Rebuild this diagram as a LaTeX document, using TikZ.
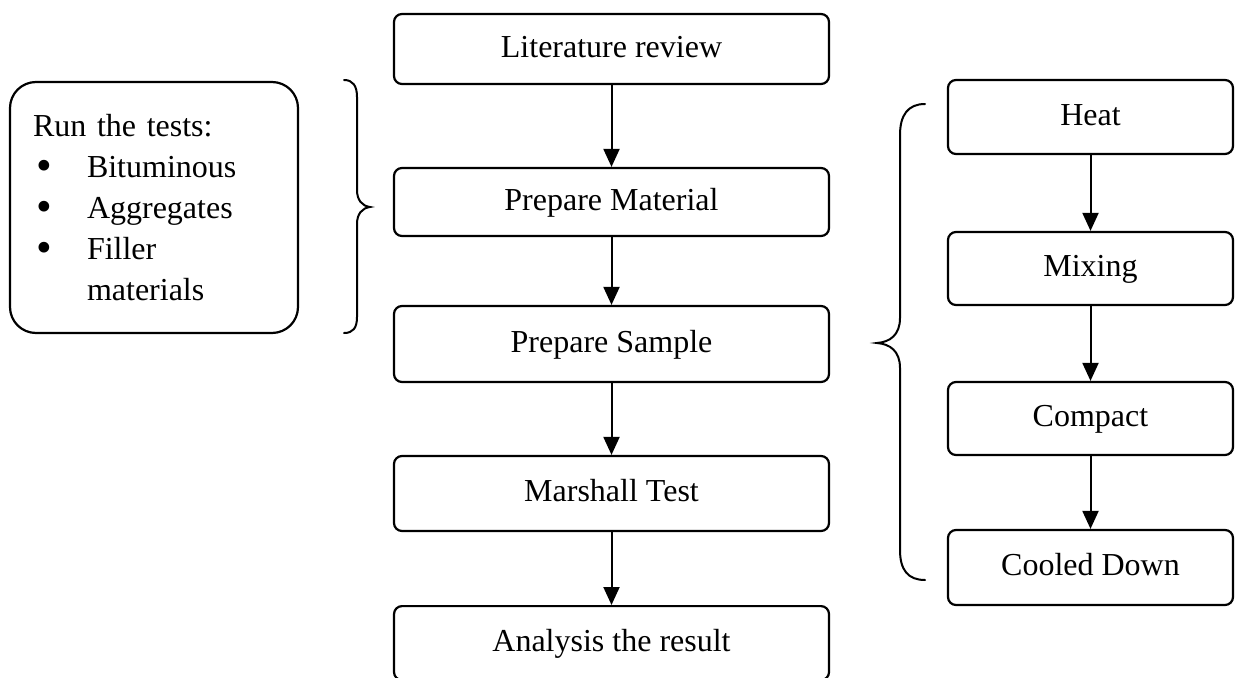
\documentclass[tikz,border=0pt]{standalone}
\usepackage{fontspec}
\setmainfont{Liberation Serif}
\usetikzlibrary{arrows.meta}
\newcommand{\bigbul}{\smash{\raisebox{-3pt}{\scalebox{1.4}{\textbullet}}}}
\begin{document}
\begin{tikzpicture}[x=1pt,y=-1pt,
  stepbox/.style={draw, line width=2.2pt, rounded corners=8pt, minimum width=435pt,
    font=\fontsize{32}{38}\selectfont, inner sep=0pt, text height=23pt, text depth=7pt},
  subbox/.style={stepbox, minimum width=285pt},
  testbox/.style={draw, line width=2.2pt, rounded corners=26pt, minimum width=288pt,
    minimum height=251pt, text width=242pt, align=left, inner xsep=23pt,
    font=\fontsize{32}{41}\selectfont},
  arr/.style={line width=2pt, -{Triangle[length=18pt,width=16pt]}},
  bracepath/.style={line width=2pt, line cap=round}]
\useasboundingbox (0,0) rectangle (1236,677);

% main column
\node[stepbox, minimum height=70pt] (lit) at (611.5,49) {Literature review};
\node[stepbox, minimum height=68pt] (pm) at (611.5,202) {Prepare Material};
\node[stepbox, minimum height=76pt] (ps) at (611.5,344) {Prepare Sample};
\node[stepbox, minimum height=75pt] (mt) at (611.5,493.5) {Marshall Test};
\node[stepbox, minimum height=74pt, anchor=north] (an) at (611.5,605) {Analysis the result};

\draw[arr] (lit) -- (pm);
\draw[arr] (pm) -- (ps);
\draw[arr] (ps) -- (mt);
\draw[arr] (mt) -- (an);

% right column
\node[subbox, minimum height=74pt] (heat) at (1090.5,117) {Heat};
\node[subbox, minimum height=73pt] (mix) at (1090.5,268.5) {Mixing};
\node[subbox, minimum height=73pt] (comp) at (1090.5,418.5) {Compact};
\node[subbox, minimum height=75pt] (cool) at (1090.5,567.5) {Cooled Down};

\draw[arr] (heat) -- (mix);
\draw[arr] (mix) -- (comp);
\draw[arr] (comp) -- (cool);

% left box
\node[testbox] (tests) at (154,207.5) {Run the tests:\\
\hspace*{3pt}\makebox[51pt][l]{\bigbul}Bituminous\\
\hspace*{3pt}\makebox[51pt][l]{\bigbul}Aggregates\\
\hspace*{3pt}\makebox[51pt][l]{\bigbul}Filler\\
\hspace*{54pt}materials};

% left brace
\draw[bracepath] (344,80) .. controls (353,80) and (357,86) .. (357,97) -- (357,190)
  .. controls (357,200) and (362,206) .. (370,207)
  .. controls (362,208) and (357,214) .. (357,224) -- (357,317)
  .. controls (357,328) and (353,333) .. (344,333);

% right brace
\draw[bracepath] (925,104) .. controls (908,104) and (900,115) .. (900,135) -- (900,318)
  .. controls (900,335) and (890,342) .. (877,343)
  .. controls (890,344) and (900,351) .. (900,368) -- (900,550)
  .. controls (900,570) and (908,580) .. (925,580);
\end{tikzpicture}
\end{document}
